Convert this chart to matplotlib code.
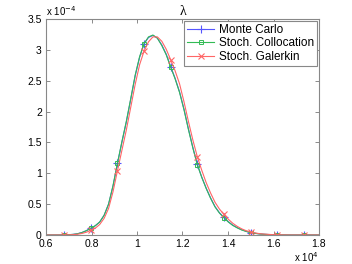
import matplotlib
matplotlib.use("Agg")
import matplotlib.pyplot as plt
import numpy as np

# x values (actual units), y values in units of 1e-4
x_vals = [6020 + 195 * k for k in range(63)]
mc_vals = [0, 0, 0, 0, 0.002, 0.005, 0.01, 0.02, 0.04, 0.07,
           0.11, 0.15, 0.21, 0.32, 0.50, 0.79, 1.16, 1.50, 1.83, 2.20,
           2.58, 2.88, 3.10, 3.20, 3.235, 3.19, 3.08, 2.93, 2.73, 2.54,
           2.32, 2.04, 1.72, 1.42, 1.145, 0.94, 0.76, 0.60, 0.46, 0.36,
           0.285, 0.215, 0.16, 0.12, 0.085, 0.06, 0.04, 0.028, 0.018, 0.012,
           0.008, 0.005, 0.003, 0.002, 0.001, 0, 0, 0, 0, 0,
           0, 0, 0]
sc_vals = [0, 0, 0, 0, 0.002, 0.005, 0.01, 0.02, 0.04, 0.07,
           0.11, 0.15, 0.21, 0.32, 0.50, 0.80, 1.16, 1.51, 1.84, 2.21,
           2.59, 2.89, 3.10, 3.21, 3.24, 3.19, 3.07, 2.92, 2.72, 2.53,
           2.31, 2.03, 1.71, 1.41, 1.14, 0.935, 0.755, 0.595, 0.455, 0.355,
           0.28, 0.21, 0.155, 0.115, 0.082, 0.058, 0.038, 0.027, 0.017, 0.011,
           0.008, 0.005, 0.003, 0.002, 0.001, 0, 0, 0, 0, 0,
           0, 0, 0]
sg_vals = [0, 0, 0, 0, 0.001, 0.003, 0.006, 0.012, 0.025, 0.045,
           0.075, 0.11, 0.17, 0.27, 0.43, 0.70, 1.04, 1.37, 1.70, 2.07,
           2.44, 2.76, 2.98, 3.13, 3.21, 3.21, 3.14, 3.01, 2.84, 2.66,
           2.45, 2.16, 1.84, 1.54, 1.27, 1.05, 0.85, 0.68, 0.53, 0.42,
           0.335, 0.255, 0.19, 0.14, 0.10, 0.07, 0.05, 0.034, 0.022, 0.015,
           0.01, 0.006, 0.004, 0.002, 0.001, 0, 0, 0, 0, 0,
           0, 0, 0]
x_ticks = [0.6, 0.8, 1.0, 1.2, 1.4, 1.6, 1.8]
x_tick_labels = ["0.6", "0.8", "1", "1.2", "1.4", "1.6", "1.8"]
y_ticks = [0, 0.5, 1, 1.5, 2, 2.5, 3, 3.5]
y_tick_labels = ["0", "0.5", "1", "1.5", "2", "2.5", "3", "3.5"]
labels = ["Monte Carlo", "Stoch. Collocation", "Stoch. Galerkin"]

plt.rcParams['font.family'] = ['Liberation Sans', 'DejaVu Sans']

fig = plt.figure(figsize=(3.52, 2.64), dpi=100)
ax = fig.add_axes([46/352, (264-235)/264, 273/352, 216/264])

x = np.array(x_vals) / 1e4
me = (4, 6)
ax.plot(x, mc_vals, color='#5555ff', lw=0.8, marker='+', ms=5.5, mew=0.8,
        markevery=me, label=labels[0])
ax.plot(x, sc_vals, color='#33bb55', lw=0.8, marker='s', ms=3.5, mew=0.7,
        mfc='none', markevery=me, label=labels[1])
ax.plot(x, sg_vals, color='#ff6666', lw=0.8, marker='x', ms=4, mew=0.8,
        markevery=me, label=labels[2])

ax.set_xlim(0.6, 1.8)
ax.set_ylim(0, 3.5)
ax.set_xticks(x_ticks)
ax.set_xticklabels(x_tick_labels)
ax.set_yticks(y_ticks)
ax.set_yticklabels(y_tick_labels)
ax.tick_params(direction='in', top=True, right=True, length=3, width=0.6,
               colors='#777777', labelcolor='black', labelsize=7.5, pad=3)
for s in ax.spines.values():
    s.set_color('#888888')
    s.set_linewidth(0.8)

ax.set_title('λ', fontsize=10, pad=3, family='Liberation Serif')
ax.text(0.0, 1.005, r'x 10$^{-4}$', transform=ax.transAxes, fontsize=7,
        ha='left', va='bottom')
ax.text(1.0, -0.102, r'x 10$^{4}$', transform=ax.transAxes, fontsize=7,
        ha='right', va='center')

leg = ax.legend(loc='upper right', fontsize=8.5, fancybox=False,
                borderaxespad=0.15, handlelength=2.3, borderpad=0.25,
                labelspacing=0.15, handletextpad=0.4, framealpha=1,
                numpoints=1)
leg.get_frame().set_edgecolor('#888888')
leg.get_frame().set_linewidth(0.8)

fig.savefig('out.png', dpi=100)
